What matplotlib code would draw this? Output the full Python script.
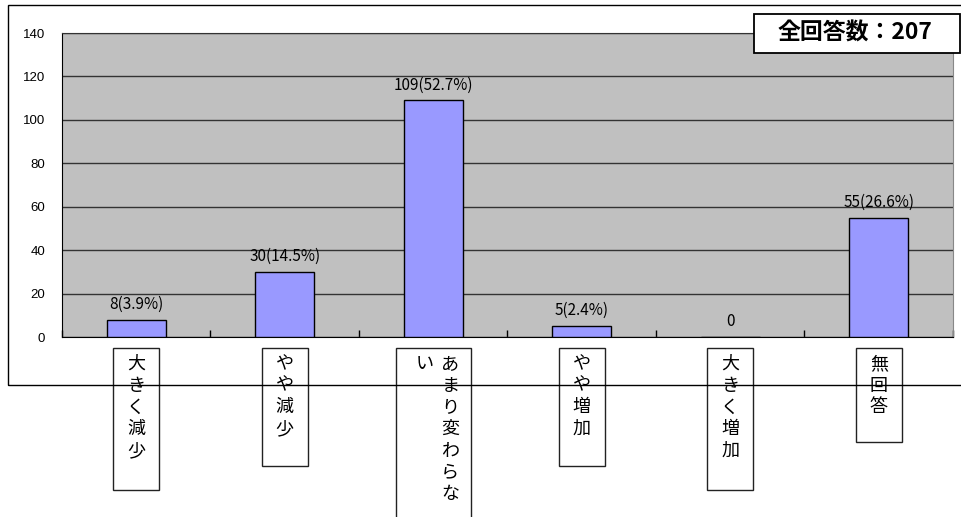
import numpy as np
import matplotlib
matplotlib.use("Agg")
import matplotlib.pyplot as plt
from matplotlib.patches import Rectangle

plt.rcParams['font.family'] = ['Noto Sans CJK JP', 'DejaVu Sans']

categories = ["大きく減少", "やや減少", "あまり変わらない", "やや増加", "大きく増加", "無回答"]
counts = [8, 30, 109, 5, 0, 55]
bar_labels = ["8(3.9%)", "30(14.5%)", "109(52.7%)", "5(2.4%)", "0", "55(26.6%)"]
y_ticks = [0, 20, 40, 60, 80, 100, 120, 140]
total_text = "全回答数：207"

W, H = 962, 517
fig = plt.figure(figsize=(W / 100, H / 100), dpi=100)

# outer chart frame (right side runs off the picture)
fig.add_artist(Rectangle((8 / W, 1 - 385 / H), 1.2, (385 - 5) / H, transform=fig.transFigure,
                         fill=False, edgecolor="black", linewidth=1.0))

ax = fig.add_axes([62 / W, 1 - 337 / H, (953 - 62) / W, (337 - 33) / H])
ax.set_facecolor("#C0C0C0")

x = np.arange(len(categories))
bars = ax.bar(x, counts, width=0.4, color="#9999FF", edgecolor="black", linewidth=1.0, zorder=3)

for rect, lab in zip(bars, bar_labels):
    ax.annotate(lab, (rect.get_x() + rect.get_width() / 2, rect.get_height()),
                xytext=(0, 5), textcoords="offset points", ha="center", va="bottom",
                fontsize=11, zorder=4)

ax.set_xlim(-0.5, len(categories) - 0.5)
ax.set_ylim(0, 140)
ax.set_yticks(y_ticks)
ax.set_yticklabels([str(v) for v in y_ticks], family="Liberation Sans", fontsize=9.5)
ax.tick_params(axis="y", length=0, pad=12)
ax.yaxis.grid(True, color="#333333", linewidth=1.0, zorder=1)
ax.set_axisbelow(True)

# category boundary ticks pointing into the plot
ax.set_xticks(np.arange(len(categories) + 1) - 0.5)
ax.set_xticklabels([])
ax.tick_params(axis="x", direction="in", length=5, width=1, color="black")

ax.spines["left"].set_color("black")
ax.spines["bottom"].set_color("black")
ax.spines["top"].set_color("#333333")
ax.spines["right"].set_color("#888888")

# vertical category labels in boxes
trans = ax.get_xaxis_transform()
ax_h_px = 337 - 33
col_max = 7
step = 21.7
for i, name in enumerate(categories):
    cols = [name[k:k + col_max] for k in range(0, len(name), col_max)]
    nrows = len(cols[0])
    box_w = 46 if len(cols) == 1 else 75
    box_h = 24 * nrows + 22
    top = -11 / ax_h_px
    ax.add_patch(Rectangle((i - box_w / 2 / 148.5, top - box_h / ax_h_px), box_w / 148.5, box_h / ax_h_px,
                           transform=trans, facecolor="white", edgecolor="#222222",
                           linewidth=1.0, clip_on=False, zorder=5))
    ncol = len(cols)
    for c, col in enumerate(cols):
        # columns run right to left
        cx = i + ((ncol - 1) / 2 - c) * 26 / 148.5 + (4 / 148.5 if ncol > 1 else 0)
        for r, ch in enumerate(col):
            ax.text(cx, top - (7 + step * r) / ax_h_px, ch, transform=trans, ha="center", va="top",
                    fontsize=13, clip_on=False, zorder=6)

# total count box
fig.add_artist(Rectangle((754 / W, 1 - 53 / H), (960 - 754) / W, 39 / H, transform=fig.transFigure,
                         facecolor="white", edgecolor="black", linewidth=1.3, zorder=10))
fig.text(778 / W, 1 - 33.5 / H, total_text, ha="left", va="center", fontsize=16.5, fontweight="bold",
         zorder=11)

fig.savefig("out.png", dpi=100)
